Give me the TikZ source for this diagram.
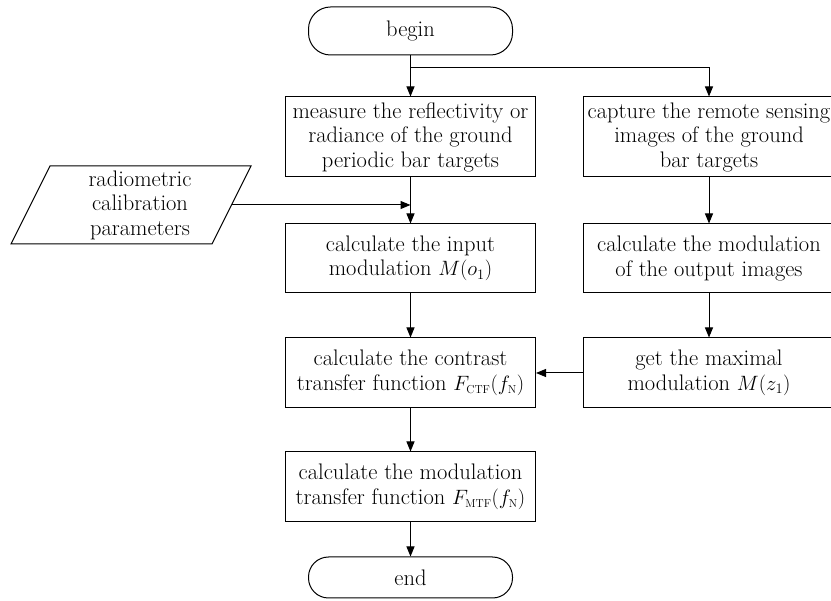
\documentclass[tikz,border=0pt]{standalone}
\usetikzlibrary{arrows.meta,calc}
\newcommand{\smallsub}[1]{\mbox{\fontsize{11.5}{12}\selectfont #1}}
\begin{document}
\begin{tikzpicture}[x=1pt,y=-1pt,
  every node/.style={font=\fontsize{22.5}{24.5}\selectfont, align=center, inner sep=0pt},
  proc/.style={draw, line width=1pt, minimum width=250pt, minimum height=70pt},
  procr/.style={draw, line width=1pt, minimum width=252pt, minimum height=70pt},
  term/.style={draw, line width=1pt, rounded corners=22pt, minimum width=204pt},
  arr/.style={line width=1pt, -{Triangle[length=10pt,width=8pt]}},
  ln/.style={line width=1pt}]
\useasboundingbox (0,0) rectangle (831,601);
\clip (0,0) rectangle (831,601);
\node[term, minimum height=48pt] (begin) at (410.5,31) {begin};
\node[proc, minimum height=80pt] (meas) at (410.5,137) {measure the reflectivity or\\radiance of the ground\\periodic bar targets};
\node[procr, minimum height=80pt] (capt) at (709,137) {capture the remote sensing\\images of the ground\\bar targets};
\node[proc, minimum height=69pt] (inmod) at (410.5,258.5) {calculate the input\\modulation $M(o_1)$};
\node[procr, minimum height=69pt] (outmod) at (709,258.5) {calculate the modulation\\of the output images};
\node[proc] (ctf) at (410.5,373) {calculate the contrast\\transfer function $F_{\smallsub{CTF}}(f_{\smallsub{N}})$};
\node[procr] (maxm) at (709,373) {get the maximal\\modulation $M(z_1)$};
\node[proc] (mtf) at (410.5,487) {calculate the modulation\\transfer function $F_{\smallsub{MTF}}(f_{\smallsub{N}})$};
\node[term, minimum height=41pt, rounded corners=20pt] (end) at (410.5,577.5) {end};
% parallelogram
\draw[ln] (50,166) -- (251,166) -- (212,244) -- (11,244) -- cycle;
\node (param) at (140,205) {radiometric\\calibration\\parameters};
\coordinate (pout) at (231.5,205);
\coordinate (br) at (410.5,68);
% connectors
\draw[arr] (begin.south) -- (meas.north);
\draw[arr] (br) -| (capt.north);
\draw[arr] (meas.south) -- (inmod.north);
\draw[arr] (pout) -- (pout -| meas.south);
\draw[arr] (inmod.south) -- (ctf.north);
\draw[arr] (ctf.south) -- (mtf.north);
\draw[arr] (mtf.south) -- (end.north);
\draw[arr] (capt.south) -- (outmod.north);
\draw[arr] (outmod.south) -- (maxm.north);
\draw[arr] (maxm.west) -- (ctf.east);
\end{tikzpicture}
\end{document}
